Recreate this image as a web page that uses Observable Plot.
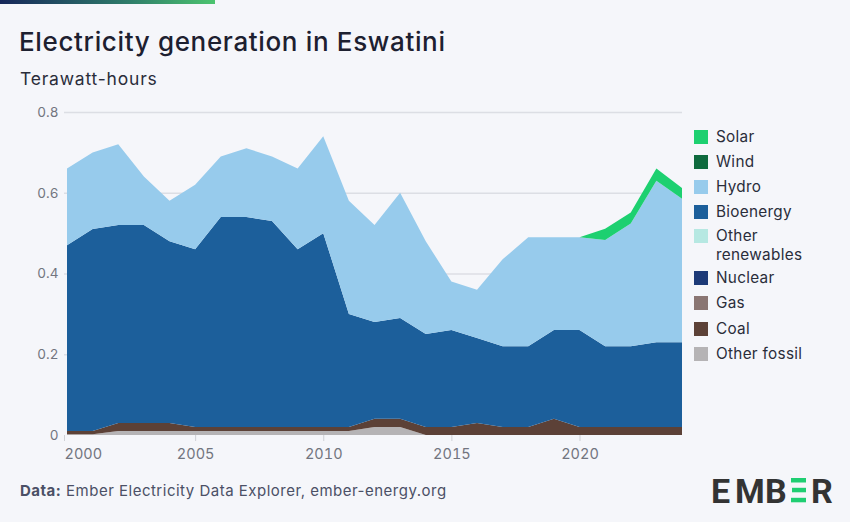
<!DOCTYPE html>
<html><head><meta charset="utf-8">
<script src="https://cdn.jsdelivr.net/npm/d3@7"></script>
<script src="https://cdn.jsdelivr.net/npm/@observablehq/plot@0.6"></script>
<style>
html,body{margin:0;padding:0;background:#f5f6fa;}
body{width:850px;height:522px;position:relative;overflow:hidden;font-family:Inter,"Open Sans",sans-serif;}
#bar{position:absolute;left:0;top:0;width:215px;height:4px;background:linear-gradient(90deg,#16275a,#2f7d6a 60%,#4cc46f);}
#title{position:absolute;left:19px;top:26px;font-size:26px;font-weight:500;letter-spacing:0.65px;color:#1d2030;white-space:nowrap;}
#subtitle{position:absolute;left:20px;top:68px;font-size:17.5px;letter-spacing:0.8px;color:#2a2d3a;white-space:nowrap;}
#chart{position:absolute;left:0;top:95px;}
#legend{position:absolute;left:694px;top:0;}
.li{position:absolute;left:0;width:160px;font-size:15.3px;letter-spacing:0.3px;color:#2a2d3a;line-height:15px;white-space:nowrap;}
.sw{position:absolute;left:0;top:0.5px;width:14px;height:14px;}
.lt{position:absolute;left:22px;top:0;}
#footer{position:absolute;left:20px;top:481px;font-size:15px;letter-spacing:0.5px;color:#4b5066;white-space:nowrap;}
#footer b{font-weight:700;}
#logo{position:absolute;left:700px;top:470px;}
</style>
</head><body>
<div id="bar"></div>
<div id="title">Electricity generation in Eswatini</div>
<div id="subtitle">Terawatt-hours</div>
<div id="chart"></div>
<div id="legend"></div>
<div id="footer"><b>Data:</b> Ember Electricity Data Explorer, ember-energy.org</div>
<svg id="logo" width="140" height="40" viewBox="0 0 140 40">
  <g font-family="Roboto, 'Noto Sans', sans-serif" font-weight="700" font-size="34" fill="#333333">
    <text x="11" y="32.5">E</text>
    <text x="35" y="32.5">M</text>
    <text x="65" y="32.5">B</text>
    <text x="111" y="32.5">R</text>
  </g>
  <g fill="#1fce72">
    <rect x="91" y="8" width="15" height="4.5"/>
    <rect x="92" y="17.8" width="14" height="4.5"/>
    <rect x="91" y="27.8" width="15" height="4.5"/>
  </g>
</svg>
<script>
const years = [2000,2001,2002,2003,2004,2005,2006,2007,2008,2009,2010,2011,2012,2013,2014,2015,2016,2017,2018,2019,2020,2021,2022,2023,2024];
const solar      = [0,0,0,0,0,0,0,0,0,0,0,0,0,0,0,0,0,0,0,0,0,0.028,0.027,0.03,0.027];
const hydro      = [0.19,0.19,0.20,0.12,0.10,0.16,0.15,0.17,0.16,0.20,0.24,0.28,0.24,0.31,0.23,0.12,0.12,0.215,0.27,0.23,0.23,0.263,0.304,0.40,0.355];
const bioenergy  = [0.46,0.50,0.49,0.49,0.45,0.44,0.52,0.52,0.51,0.44,0.48,0.28,0.24,0.25,0.23,0.24,0.21,0.20,0.20,0.22,0.24,0.20,0.20,0.21,0.21];
const coal       = [0.008,0.008,0.02,0.02,0.02,0.01,0.01,0.01,0.01,0.01,0.01,0.01,0.02,0.02,0.02,0.02,0.03,0.02,0.02,0.04,0.02,0.02,0.02,0.02,0.02];
const otherFossil= [0.002,0.002,0.01,0.01,0.01,0.01,0.01,0.01,0.01,0.01,0.01,0.01,0.02,0.02,0,0,0,0,0,0,0,0,0,0,0];

const categories = ["Solar","Wind","Hydro","Bioenergy","Other renewables","Nuclear","Gas","Coal","Other fossil"];
const legendLabels = [["Solar"],["Wind"],["Hydro"],["Bioenergy"],["Other","renewables"],["Nuclear"],["Gas"],["Coal"],["Other fossil"]];
const colors = ["#1dd070","#0e6a3e","#97cbec","#1c5f9b","#b6e8e2","#1d3a78","#8a7673","#5c4137","#b5b3b5"];
const yTicks = [0,0.2,0.4,0.6,0.8];
const xTicks = [2005,2010,2015,2020];

const seriesData = {"Other fossil": otherFossil, "Coal": coal, "Bioenergy": bioenergy, "Hydro": hydro, "Solar": solar};
const stackOrder = ["Other fossil","Coal","Gas","Nuclear","Other renewables","Bioenergy","Hydro","Wind","Solar"];
const rows = [];
for (const s of stackOrder) {
  if (!seriesData[s]) continue;
  years.forEach((y, i) => rows.push({year: y, source: s, value: seriesData[s][i]}));
}

const font = "Inter, 'Open Sans', sans-serif";
const chart = Plot.plot({
  width: 850, height: 375,
  marginTop: 17, marginBottom: 35, marginLeft: 67, marginRight: 168,
  style: {background: "transparent", fontFamily: font, overflow: "visible"},
  x: {domain: [2000, 2024]},
  y: {domain: [0, 0.8]},
  color: {domain: categories, range: colors},
  marks: [
    Plot.ruleY(yTicks.slice(1), {stroke: "#dcdee4", strokeWidth: 1.3, insetLeft: -3}),
    Plot.areaY(rows, {x: "year", y: "value", z: "source", fill: "source", order: stackOrder, curve: "linear"}),
    Plot.axisY({ticks: yTicks, tickSize: 0, tickPadding: 9, tickFormat: d => d === 0 ? "0" : d.toFixed(1), fill: "#72757f", fontSize: 13.5, label: null}),
    Plot.axisX({ticks: xTicks, tickSize: 6, tickPadding: 7, stroke: "#cfd1d6", fill: "#72757f", fontSize: 14.5, tickFormat: d => String(d), label: null}),
    Plot.axisX({ticks: [2000], tickSize: 6, tickPadding: 7, stroke: "#cfd1d6", fill: "#72757f", fontSize: 14.5, tickFormat: d => String(d), textAnchor: "start", dx: -3, label: null})
  ]
});
document.getElementById("chart").appendChild(chart);

const legend = document.getElementById("legend");
const rowTops = [129, 154, 179, 204, 228, 270, 295, 321, 346];
categories.forEach((c, i) => {
  const li = document.createElement("div");
  li.className = "li";
  li.style.top = rowTops[i] + "px";
  li.innerHTML = `<div class="sw" style="background:${colors[i]}"></div>` +
    legendLabels[i].map((t, j) => `<div class="lt" style="top:${j * 18.5}px">${t}</div>`).join("");
  legend.appendChild(li);
});
</script>
</body></html>
